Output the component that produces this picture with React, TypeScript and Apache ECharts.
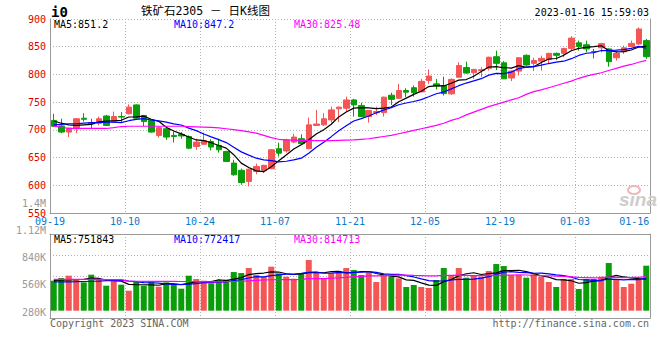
import React, { useEffect, useRef } from "react";
import * as echarts from "echarts";

// ---------- data ----------
const dates = [
  "09-19","09-20","09-21","09-22","09-23","09-26","09-27","09-28","09-29","09-30",
  "10-10","10-11","10-12","10-13","10-14","10-17","10-18","10-19","10-20","10-21",
  "10-24","10-25","10-26","10-27","10-28","10-31","11-01","11-02","11-03","11-04",
  "11-07","11-08","11-09","11-10","11-11","11-14","11-15","11-16","11-17","11-18",
  "11-21","11-22","11-23","11-24","11-25","11-28","11-29","11-30","12-01","12-02",
  "12-05","12-06","12-07","12-08","12-09","12-12","12-13","12-14","12-15","12-16",
  "12-19","12-20","12-21","12-22","12-23","12-26","12-27","12-28","12-29","12-30",
  "01-03","01-04","01-05","01-06","01-09","01-10","01-11","01-12","01-13","01-16",
];

// [open, close, low, high]
const ohlc: number[][] = [
  [717, 706.5, 705, 729], [707, 696, 694, 720], [696, 703, 687, 704], [702, 720, 694, 721],
  [721, 719, 715, 730], [712.5, 711, 702, 720], [712, 720, 708, 724], [725, 708, 707, 727],
  [714, 724, 712, 733], [724, 723, 714, 732], [729, 741, 728, 746], [745, 721, 720, 746],
  [726, 715, 707, 726], [717, 696, 695, 718], [690, 704, 686, 706], [702, 687, 682, 706],
  [690, 688, 677, 697], [692, 689, 684, 696], [688, 667, 665, 690], [670, 678, 664, 684],
  [674, 681, 673, 695], [679, 669, 663, 683], [672, 664, 659, 684], [661, 643, 642, 662],
  [640, 619, 617, 646], [627, 605, 601, 630], [607, 629, 598, 630], [625, 634, 620, 639],
  [627, 636, 622, 637], [630, 664, 629, 665], [666, 658, 652, 677], [662, 682, 659, 684],
  [678, 687, 676, 693], [684, 675, 673, 692], [666, 709, 665, 722], [708, 710.5, 707, 736],
  [709, 720, 707, 730], [718, 736, 713, 742], [738, 741, 714, 742], [739, 754, 733, 760],
  [754, 745, 724, 756], [744, 724, 723, 749], [724, 735, 713, 735], [731, 733, 727, 742],
  [731, 759, 724, 760], [762.5, 755, 745, 767], [757, 771, 756, 783], [771, 768, 759, 775],
  [776, 767, 760, 780], [768.5, 787.5, 768, 792], [789, 797, 783, 809], [783, 779, 773, 792],
  [780, 765.5, 762, 796], [765, 791, 763, 793], [795, 816, 795, 822], [812.5, 802.5, 801, 823],
  [803, 809, 792, 810], [807, 808.5, 795, 813], [811, 831, 807, 832], [832, 820, 808, 843],
  [821, 792, 792, 824], [793.5, 806, 788, 807], [806, 830, 798, 831], [834.5, 817, 815.5, 836],
  [820, 825, 806, 830], [824, 829, 807, 834], [827, 838, 819, 839], [838, 834.5, 826, 839.5],
  [838, 847, 831, 847.5], [847, 865.5, 843, 869], [857, 850.5, 843, 861], [853.5, 846, 840, 861],
  [841.5, 841, 829, 846], [848, 855.5, 840, 857], [846, 823, 814, 847], [830, 838, 825, 842],
  [841, 848, 837, 852], [850.5, 856, 849, 861], [855, 882, 853.5, 884.5], [861, 832, 828, 864],
];

const volumes = [
  713800, 777200, 832800, 745500, 674100, 856500, 729700, 594800, 713800, 618600,
  475900, 682100, 594800, 705900, 571000, 674100, 642400, 523400, 832800, 753400,
  713800, 650300, 729700, 737600, 920000, 896200, 1015200, 848600, 801000, 1046900,
  888300, 809000, 761400, 872400, 1205500, 920000, 753400, 888300, 920000, 1015200,
  967600, 848600, 912100, 682100, 848600, 809000, 769300, 563100, 610700, 563100,
  539300, 729700, 1015200, 848600, 1015200, 785200, 848600, 809000, 943800, 1110300,
  1062800, 848600, 848600, 785200, 864500, 809000, 682100, 563100, 753400, 753400,
  515500, 753400, 753400, 809000, 1134100, 753400, 563100, 642400, 729700, 1070700,
];

// moving-average values before the window is full
const ma5Head = [716, 712, 709, 708];
const ma10Head = [709, 710, 711, 711, 712, 713, 713, 714, 714];
// MA30 line
const ma30Line = [
  706.5, 705, 702.5, 702.5, 702.5, 702.5, 702.5, 702.5, 704, 706,
  706.5, 706.5, 706.5, 706.5, 706.5, 706.5, 706.5, 706.5, 706, 705.5,
  705, 704.5, 703.5, 702, 700.5, 698.5, 696.5, 694, 690, 686,
  683, 682, 681.5, 681, 681, 680.5, 680.5, 680.5, 681, 681.5,
  682, 683, 684, 686, 688, 690, 693, 696, 699, 702,
  705, 708, 712, 717, 721, 727, 732, 737, 742, 746,
  750, 754, 758, 764, 769, 772, 776, 780, 784, 788,
  793, 797, 800, 803, 807, 811, 815, 818, 822, 825.5,
];
const volMa5Head = [720000, 725000, 735000, 740000];
const volMa10Head = [685000, 685000, 688000, 690000, 695000, 700000, 705000, 712000, 720000];
const volMa30Head = [
  745000, 745000, 745000, 745000, 745000, 745000, 745000, 740000, 740000, 740000,
  700000, 700000, 698000, 698000, 698000, 698000, 698000, 695000, 695000, 690000,
  690000, 688000, 688000, 690000, 695000, 700000, 710000, 720000, 730000,
];

const priceAxis = { min: 550, max: 900, step: 50 };
const volLabelAxis = { min: 280000, max: 1400000, step: 280000 };
const xLabelIndices = [0, 10, 20, 30, 40, 50, 60, 70, 79];

const codeText = "i0";
const titleText = "铁矿石2305 － 日K线图";
const timeText = "2023-01-16 15:59:03";
const priceLegend = ["MA5:851.2", "MA10:847.2", "MA30:825.48"];
const volLegend = ["MA5:751843", "MA10:772417", "MA30:814713"];
const copyText = "Copyright 2023 SINA.COM";
const urlText = "http://finance.sina.com.cn";

// ---------- helpers ----------
function movingAvg(values: number[], n: number, head: number[]) {
  return values.map((_, i) => {
    if (i < n - 1) return head[i];
    let s = 0;
    for (let k = i - n + 1; k <= i; k++) s += values[k];
    return +(s / n).toFixed(2);
  });
}

const MONO = '"DejaVu Sans Mono", monospace';
const UP = "#f45555";
const DOWN = "#0a9d0a";
const GRID_LINE = "#9a9a9a";
const DOT = { color: "#b4b4b4", width: 1, type: [1, 2] as any };
const MA_COLORS = ["#000000", "#0000ff", "#ff00ff"];

export default function App() {
  const ref = useRef<HTMLDivElement>(null);

  useEffect(() => {
    document.body.style.margin = "0";
    const chart = echarts.init(ref.current!, null, { renderer: "svg" });

    const closes = ohlc.map((d) => d[1]);
    const ma5 = movingAvg(closes, 5, ma5Head);
    const ma10 = movingAvg(closes, 10, ma10Head);
    const vma5 = movingAvg(volumes, 5, volMa5Head);
    const vma10 = movingAvg(volumes, 10, volMa10Head);
    const vma30 = movingAvg(volumes, 30, volMa30Head);

    const xSplit = {
      show: true,
      interval: (i: number) => i % 10 === 0,
      lineStyle: DOT,
    };
    const richLabel = {
      c: { fontFamily: MONO, fontSize: 10, color: "#0a7acb", padding: [0, 7.5, 0, 0] },
      r: { fontFamily: MONO, fontSize: 10, color: "#0a7acb", padding: [0, 24, 0, 0] },
    };

    const lineSeries = (data: number[], color: string, xi: number, yi: number, name: string) => ({
      name,
      type: "line",
      xAxisIndex: xi,
      yAxisIndex: yi,
      data,
      symbol: "none",
      showSymbol: false,
      lineStyle: { color, width: 1.2 },
      z: 4,
    });

    const legendText = (texts: string[], y: number) =>
      texts.map((t, i) => ({
        type: "text",
        x: [54, 174, 294][i],
        y,
        style: {
          text: t,
          fill: MA_COLORS[i],
          font: `10px ${MONO}`,
          textAlign: "left",
          textVerticalAlign: "middle",
          align: "left",
          verticalAlign: "middle",
        },
      }));

    const txt = (text: string, x: number, y: number, font: string, fill: string, align = "left") => ({
      type: "text",
      x,
      y,
      style: {
        text,
        fill,
        font,
        textAlign: align,
        textVerticalAlign: "middle",
        align,
        verticalAlign: "middle",
      },
    });

    const gridBase = { left: 50, right: 10, containLabel: false, outerBoundsMode: "none" };

    chart.setOption({
      animation: false,
      backgroundColor: "#ffffff",
      grid: [
        { ...gridBase, top: 19, height: 194 },
        { ...gridBase, top: 234, height: 84 },
        { ...gridBase, top: 203, height: 109 },
      ],
      xAxis: [
        {
          gridIndex: 0,
          type: "category",
          data: dates,
          boundaryGap: true,
          axisLine: { show: true, onZero: false, lineStyle: { color: GRID_LINE } },
          axisTick: { show: false },
          axisLabel: {
            interval: (i: number) => xLabelIndices.includes(i),
            margin: 3,
            formatter: (v: string, i: number) => (i === dates.length - 1 ? `{r|${v}}` : `{c|${v}}`),
            rich: richLabel,
          },
          splitLine: xSplit,
        },
        {
          gridIndex: 1,
          type: "category",
          data: dates,
          boundaryGap: true,
          axisLine: { show: true, onZero: false, lineStyle: { color: GRID_LINE } },
          axisTick: { show: false },
          axisLabel: { show: false },
          splitLine: xSplit,
        },
        { gridIndex: 2, type: "category", data: dates, show: false },
        {
          gridIndex: 1,
          type: "category",
          data: dates,
          position: "top",
          axisLine: { show: true, onZero: false, lineStyle: { color: GRID_LINE } },
          axisTick: { show: false },
          axisLabel: { show: false },
          splitLine: { show: false },
        },
      ],
      yAxis: [
        {
          gridIndex: 0,
          type: "value",
          min: priceAxis.min,
          max: priceAxis.max,
          interval: priceAxis.step,
          axisLine: { show: true, onZero: false, lineStyle: { color: GRID_LINE } },
          axisTick: { show: false },
          axisLabel: { color: "#e00000", fontFamily: MONO, fontSize: 10, margin: 4 },
          splitLine: { show: true, lineStyle: DOT },
        },
        {
          gridIndex: 0,
          type: "value",
          position: "right",
          min: 0,
          max: 1,
          axisLine: { show: true, onZero: false, lineStyle: { color: GRID_LINE } },
          axisTick: { show: false },
          axisLabel: { show: false },
          splitLine: { show: false },
        },
        {
          gridIndex: 1,
          type: "value",
          min: -174000,
          max: 1825000,
          axisLine: { show: true, onZero: false, lineStyle: { color: GRID_LINE } },
          axisTick: { show: false },
          axisLabel: { show: false },
          splitLine: { show: false },
        },
        {
          gridIndex: 1,
          type: "value",
          position: "right",
          min: 0,
          max: 4,
          interval: 1,
          axisLine: { show: true, onZero: false, lineStyle: { color: GRID_LINE } },
          axisTick: { show: false },
          axisLabel: { show: false },
          splitLine: { show: true, lineStyle: DOT },
        },
        {
          gridIndex: 2,
          type: "value",
          min: volLabelAxis.min,
          max: volLabelAxis.max,
          interval: volLabelAxis.step,
          axisLine: { show: false },
          axisTick: { show: false },
          splitLine: { show: false },
          axisLabel: {
            color: "#999999",
            fontFamily: MONO,
            fontSize: 10,
            margin: 4,
            formatter: (v: number) => (v >= 1000000 ? `${+(v / 1000000).toFixed(2)}M` : `${v / 1000}K`),
          },
        },
      ],
      series: [
        {
          type: "candlestick",
          xAxisIndex: 0,
          yAxisIndex: 0,
          data: ohlc,
          barWidth: 6,
          itemStyle: { color: UP, color0: DOWN, borderColor: UP, borderColor0: DOWN, borderWidth: 1 },
          z: 2,
        },
        lineSeries(ma5, MA_COLORS[0], 0, 0, "MA5"),
        lineSeries(ma10, MA_COLORS[1], 0, 0, "MA10"),
        lineSeries(ma30Line, MA_COLORS[2], 0, 0, "MA30"),
        {
          type: "bar",
          xAxisIndex: 1,
          yAxisIndex: 2,
          barWidth: 6,
          data: volumes.map((v, i) => ({
            value: v,
            itemStyle: { color: ohlc[i][1] >= ohlc[i][0] ? UP : DOWN },
          })),
          z: 2,
        },
        lineSeries(vma5, MA_COLORS[0], 1, 2, "VMA5"),
        lineSeries(vma10, MA_COLORS[1], 1, 2, "VMA10"),
        lineSeries(vma30, MA_COLORS[2], 1, 2, "VMA30"),
      ],
      graphic: [
        txt(codeText, 51, 12, `bold 14px ${MONO}`, "#000000"),
        txt(titleText, 141, 11, '11.5px "DejaVu Sans Mono", "Noto Sans CJK SC"', "#000000"),
        txt(timeText, 649, 12, `10px ${MONO}`, "#000000", "right"),
        ...legendText(priceLegend, 24),
        ...legendText(volLegend, 239),
        txt(copyText, 50, 323, `10px ${MONO}`, "#666666"),
        txt(urlText, 649, 323, `10px ${MONO}`, "#666666", "right"),
        {
          type: "ellipse",
          shape: { cx: 634, cy: 190, rx: 6, ry: 4 },
          style: { fill: "none", stroke: "#f2b5b5", lineWidth: 2 },
          z: 1,
        },
        {
          ...txt("sina", 619, 199, 'italic bold 19px "Liberation Sans"', "#cdcdcd"),
          z: 1,
        },
      ],
    });

    return () => chart.dispose();
  }, []);

  return (
    <div
      ref={ref}
      style={{ position: "fixed", left: 0, top: 0, width: 660, height: 360 }}
    />
  );
}
